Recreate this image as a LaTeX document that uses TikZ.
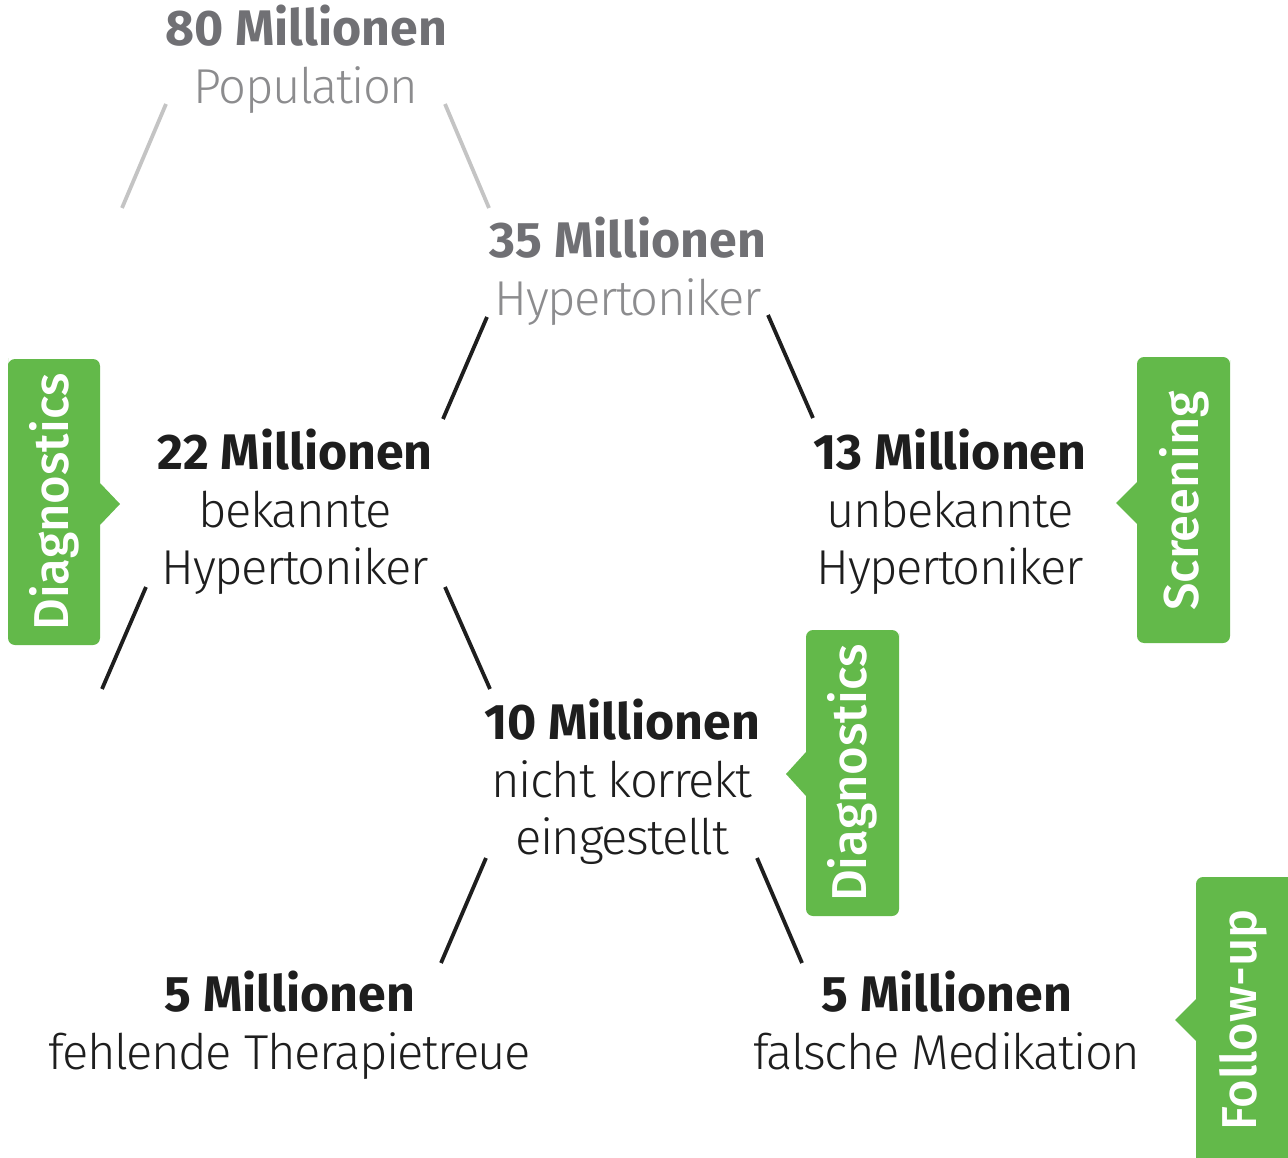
\documentclass[tikz,border=0pt]{standalone}
\usepackage{fontspec}
\setmainfont{Fira Sans}
\newfontfamily\lightfontbase[LetterSpace=-3]{Fira Sans Light}
\newcommand{\lightfont}{\lightfontbase\fontsize{49}{57.5}\selectfont}
\newfontfamily\medfont{Fira Sans Medium}
\definecolor{taggreen}{RGB}{99,185,74}
\definecolor{topbold}{RGB}{112,112,116}
\definecolor{toplight}{RGB}{140,140,142}
\definecolor{topline}{RGB}{196,196,196}
\definecolor{ink}{RGB}{30,30,30}
\begin{document}
\begin{tikzpicture}[x=1pt,y=-1pt,
  blk/.style={anchor=north,inner sep=0pt,align=center,font=\fontsize{50}{57.5}\selectfont,text=ink},
  link/.style={line width=3.8pt,ink},
  toplink/.style={line width=3.8pt,topline},
  tagshape/.style={fill=taggreen},
  tagtxt/.style={text=white,rotate=90,inner sep=0pt,font=\medfont\fontsize{49}{49}\selectfont}]
\useasboundingbox (0,0) rectangle (1288,1158);

% text blocks
\node[blk] (n80) at (306,5) {{\bfseries\color{topbold}80 Millionen}\\{\lightfont\color{toplight}Population}};
\node[blk] (n35) at (628,217) {{\bfseries\color{topbold}35 Millionen}\\{\lightfont\color{toplight}Hypertoniker}};
\node[blk] (n22) at (295,429) {{\bfseries 22 Millionen}\\{\lightfont bekannte}\\{\lightfont Hypertoniker}};
\node[blk] (n13) at (950,429) {{\bfseries 13 Millionen}\\{\lightfont unbekannte}\\{\lightfont Hypertoniker}};
\node[blk] (n10) at (622,699) {{\bfseries 10 Millionen}\\{\lightfont nicht korrekt}\\{\lightfont eingestellt}};
\node[blk] (n5a) at (290,971) {{\bfseries 5 Millionen}\\{\lightfont fehlende Therapietreue}};
\node[blk] (n5b) at (947,971) {{\bfseries 5 Millionen}\\{\lightfont falsche Medikation}};

% connector end points
\coordinate (a1) at (166,104); \coordinate (a2) at (122,208);
\coordinate (b1) at (445,104); \coordinate (b2) at (489,208);
\coordinate (c1) at (487,317); \coordinate (c2) at (443,419);
\coordinate (d1) at (768,315); \coordinate (d2) at (813,418);
\coordinate (e1) at (146,587); \coordinate (e2) at (102,689);
\coordinate (f1) at (445,587); \coordinate (f2) at (490,689);
\coordinate (g1) at (486,858); \coordinate (g2) at (441,963);
\coordinate (h1) at (757,858); \coordinate (h2) at (802,963);

\draw[toplink] (a1) -- (a2);
\draw[toplink] (b1) -- (b2);
\draw[link] (c1) -- (c2);
\draw[link] (d1) -- (d2);
\draw[link] (e1) -- (e2);
\draw[link] (f1) -- (f2);
\draw[link] (g1) -- (g2);
\draw[link] (h1) -- (h2);

% tags
\fill[tagshape] (8,365) [rounded corners=7pt] -- (8,359) -- (100,359) [sharp corners] -- (100,483) -- (120,504) -- (100,525) [rounded corners=7pt] -- (100,645) -- (8,645) -- (8,365) -- cycle;
\node[tagtxt] (t1) at (54,502) {Diagnostics};

\fill[tagshape] (899,640) [rounded corners=7pt] -- (899,630) -- (806,630) [sharp corners] -- (806,752) -- (786,774) -- (806,796) [rounded corners=7pt] -- (806,916) -- (899,916) -- (899,640) -- cycle;
\node[tagtxt] (t2) at (852,773) {Diagnostics};

\fill[tagshape] (1230,367) [rounded corners=7pt] -- (1230,357) -- (1137,357) [sharp corners] -- (1137,482) -- (1116,503) -- (1137,524) [rounded corners=7pt] -- (1137,643) -- (1230,643) -- (1230,367) -- cycle;
\node[tagtxt] (t3) at (1184,501) {Screening};

\fill[tagshape] (1292,877) [rounded corners=7pt] -- (1196,877) [sharp corners] -- (1196,999) -- (1175,1020) -- (1196,1041) -- (1196,1162) -- (1292,1162) -- cycle;
\node[tagtxt] (t4) at (1243,1020) {Follow-up};
\end{tikzpicture}
\end{document}
